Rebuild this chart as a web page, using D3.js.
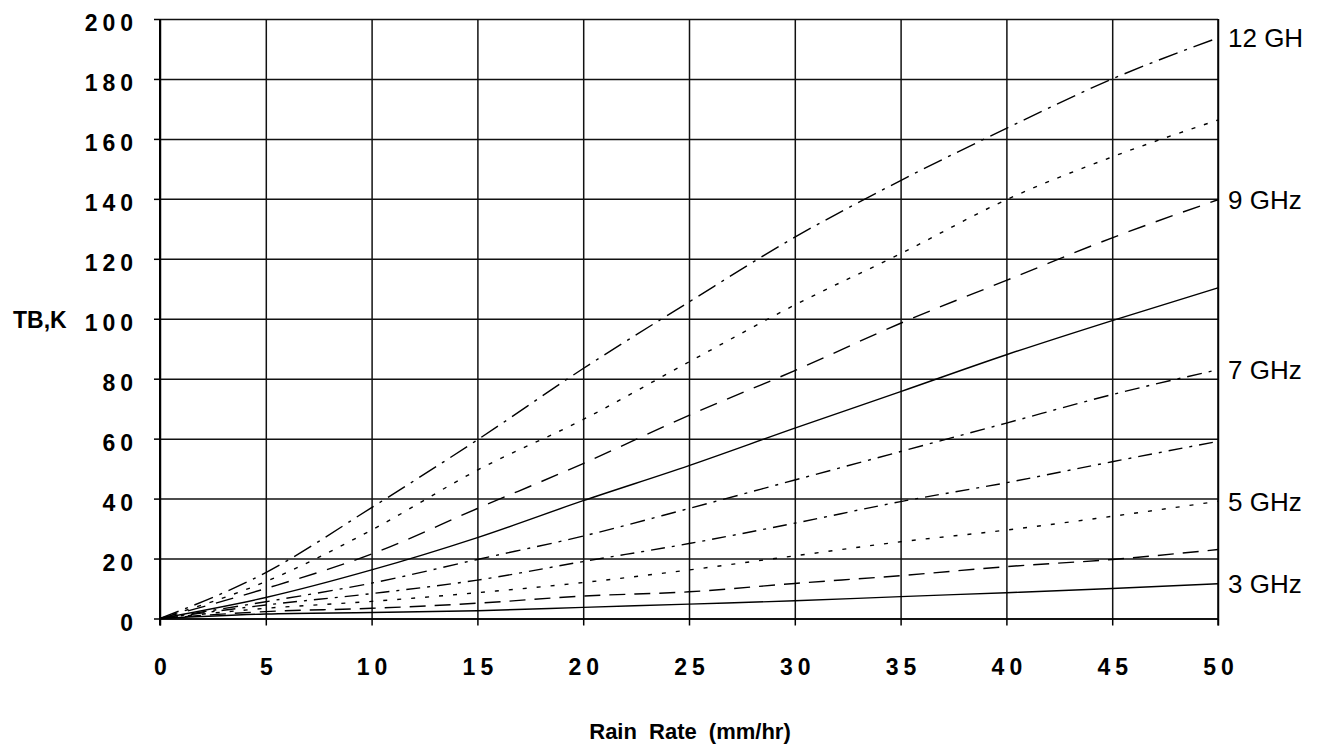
<!DOCTYPE html>
<html>
<head>
<meta charset="utf-8">
<script src="https://cdn.jsdelivr.net/npm/d3@7"></script>
<style>
  html, body { margin: 0; padding: 0; background: #fff; }
  svg { display: block; }
</style>
</head>
<body>
<svg id="chart" width="1328" height="744"></svg>
<script>
// Rain rate samples (mm/hr)
const rainRate = [0, 5, 10, 15, 20, 25, 30, 35, 40, 45, 50];

// Brightness temperature (K) for each curve, top to bottom
const tbCurve1 = [0, 15.3, 37.0, 59.6, 83.4, 105.6, 127.2, 146.1, 163.5, 180.0, 193.7];
const tbCurve2 = [0, 12.3, 29.5, 49.5, 66.4, 85.6, 104.6, 121.7, 139.7, 154.0, 166.3];
const tbCurve3 = [0, 10.0, 21.5, 36.7, 51.7, 67.8, 82.7, 98.5, 112.8, 127.0, 139.7];
const tbCurve4 = [0, 7.0, 16.2, 27.0, 39.3, 51.0, 63.5, 75.7, 88.0, 99.4, 110.3];
const tbCurve5 = [0, 5.6, 11.8, 19.7, 27.5, 36.7, 46.2, 55.7, 65.2, 74.7, 83.0];
const tbCurve6 = [0, 4.5, 8.3, 12.8, 19.0, 25.0, 31.8, 39.0, 45.3, 52.3, 59.1];
const tbCurve7 = [0, 3.4, 5.7, 8.6, 12.0, 16.2, 20.9, 25.6, 29.5, 34.1, 39.1];
const tbCurve8 = [0, 2.3, 3.4, 5.1, 7.5, 8.9, 11.7, 14.3, 17.3, 19.7, 23.0];
const tbCurve9 = [0, 1.5, 2.0, 2.6, 3.7, 4.8, 5.9, 7.3, 8.6, 10.0, 11.6];

const curves = [tbCurve1, tbCurve2, tbCurve3, tbCurve4, tbCurve5, tbCurve6, tbCurve7, tbCurve8, tbCurve9];
const curveLabels = ["12 GH", null, "9 GHz", null, "7 GHz", null, "5 GHz", null, "3 GHz"];

// Axis ticks
const xTicks = [0, 5, 10, 15, 20, 25, 30, 35, 40, 45, 50];
const yTicks = [0, 20, 40, 60, 80, 100, 120, 140, 160, 180, 200];

// Line styles per curve
const dashStyles = [
  "20,7,3,7",   // long dash-dot
  "4,9",        // dotted
  "18,11",      // long dash
  null,         // solid
  "15,7,3,7",   // dash-dot
  "14,7,3,7",   // dash-dot
  "4,10",       // dotted
  "16,9",       // long dash
  null          // solid
];

const svg = d3.select("#chart");
const plotL = 160, plotR = 1218, plotT = 19, plotB = 618.5;

const x = d3.scaleLinear().domain([0, 50]).range([plotL, plotR]);
const y = d3.scaleLinear().domain([0, 200]).range([plotB, plotT]);

const tickFont = "'Liberation Sans', Arial, sans-serif";
const tickSpacing = 5;

// Grid
const gridY = svg.append("g")
  .attr("transform", `translate(${plotL},0)`)
  .call(d3.axisLeft(y).tickValues(yTicks).tickSize(-(plotR - plotL)).tickFormat(""));
gridY.select(".domain").remove();
gridY.selectAll("line").attr("stroke", "#111").attr("stroke-width", 1.5);

const gridX = svg.append("g")
  .attr("transform", `translate(0,${plotB})`)
  .call(d3.axisBottom(x).tickValues(xTicks).tickSize(-(plotB - plotT)).tickFormat(""));
gridX.select(".domain").remove();
gridX.selectAll("line").attr("stroke", "#111").attr("stroke-width", 1.5);

// Y axis with outside ticks and spaced labels
const yAxis = svg.append("g")
  .attr("transform", `translate(${plotL},0)`)
  .call(d3.axisLeft(y).tickValues(yTicks).tickSize(6).tickPadding(16).tickSizeOuter(0));
yAxis.select(".domain").attr("stroke", "#000").attr("stroke-width", 2)
  .attr("d", `M0,${plotT}V${plotB + 7}`);
yAxis.selectAll(".tick line").attr("stroke", "#000").attr("stroke-width", 1.5);
yAxis.selectAll(".tick text")
  .attr("font-family", tickFont)
  .attr("font-weight", "bold")
  .attr("font-size", 23)
  .attr("letter-spacing", tickSpacing)
  .attr("fill", "#000")
  .attr("dy", "0.5em");

// X axis with outside ticks and spaced labels
const xAxis = svg.append("g")
  .attr("transform", `translate(0,${plotB})`)
  .call(d3.axisBottom(x).tickValues(xTicks).tickSize(7).tickPadding(33).tickSizeOuter(0));
xAxis.select(".domain").attr("stroke", "#000").attr("stroke-width", 1.5);
xAxis.selectAll(".tick line").attr("stroke", "#000").attr("stroke-width", 1.5);
xAxis.selectAll(".tick text")
  .attr("font-family", tickFont)
  .attr("font-weight", "bold")
  .attr("font-size", 23)
  .attr("letter-spacing", tickSpacing)
  .attr("dx", tickSpacing / 2)
  .attr("fill", "#000");

// Right border
svg.append("line")
  .attr("x1", plotR).attr("x2", plotR).attr("y1", plotT).attr("y2", plotB + 7)
  .attr("stroke", "#000").attr("stroke-width", 1.5);

// Axis titles
svg.append("text")
  .attr("x", 13).attr("y", y(100) + 9)
  .attr("font-family", tickFont).attr("font-weight", "bold").attr("font-size", 23)
  .attr("fill", "#000")
  .text("TB,K");

svg.append("text")
  .attr("x", (plotL + plotR) / 2 + 1).attr("y", 739)
  .attr("text-anchor", "middle")
  .attr("font-family", tickFont).attr("font-size", 22).attr("font-weight", "bold")
  .attr("word-spacing", 6)
  .attr("fill", "#000")
  .text("Rain Rate (mm/hr)");

// Curves
const line = d3.line()
  .x((d, i) => x(rainRate[i]))
  .y(d => y(d))
  .curve(d3.curveMonotoneX);

svg.append("g").selectAll("path")
  .data(curves)
  .join("path")
  .attr("d", d => line(d))
  .attr("fill", "none")
  .attr("stroke", "#000")
  .attr("stroke-width", 1.4)
  .attr("stroke-dasharray", (d, i) => dashStyles[i]);

// Curve labels at the right end
svg.append("g").selectAll("text")
  .data(curves.map((c, i) => ({ v: c[c.length - 1], label: curveLabels[i] })).filter(d => d.label))
  .join("text")
  .attr("x", plotR + 10)
  .attr("y", d => y(d.v))
  .attr("dy", "0.36em")
  .attr("font-family", tickFont)
  .attr("font-size", 26)
  .attr("fill", "#000")
  .text(d => d.label);
</script>
</body>
</html>
